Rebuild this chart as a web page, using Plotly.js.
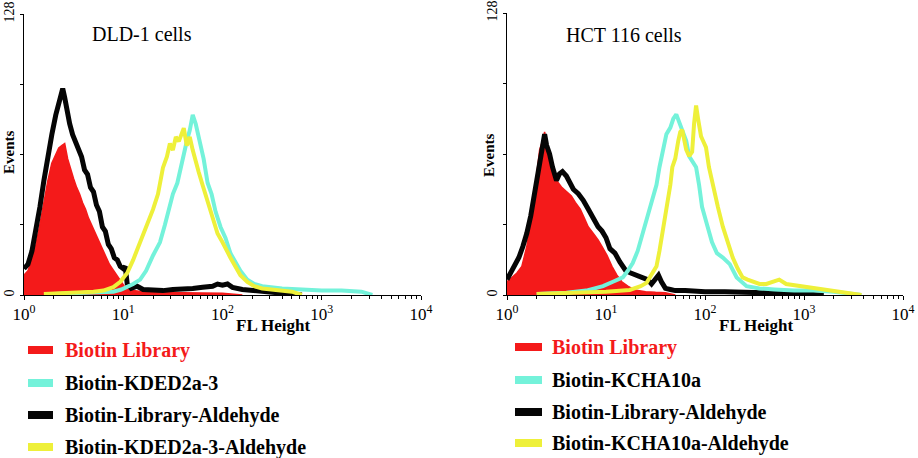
<!DOCTYPE html>
<html>
<head>
<meta charset="utf-8">
<script src="https://cdn.plot.ly/plotly-3.0.1.min.js"></script>
<style>html,body{margin:0;padding:0;background:#fff;}#chart{width:918px;height:458px;}</style>
</head>
<body>
<div id="chart"></div>
<script>
// ---------- DATA (x = log10 FL Height, y = Events) ----------
// DLD-1 cells
const dldRedLx   = [0,0.04,0.08,0.12,0.16,0.2,0.24,0.28,0.32,0.35,0.38,0.41,0.44,0.47,0.5,0.53,0.56,0.59,0.62,0.65,0.68,0.71,0.74,0.77,0.8,0.83,0.86,0.89,0.92,0.95,0.98,1.01,1.05,1.1,1.2,1.4,1.6,1.8,2.0,2.2];
const dldRedEv   = [9,11,16,23,32,42,52,60,64,67,68,69,62,57,53,49,46,42,39,35,32,29,26,23,20,17,14,12,10,8,6,4,3,2,1.5,1,1,1,0.8,0];
const dldBlackLx = [0,0.04,0.08,0.12,0.16,0.2,0.24,0.28,0.32,0.35,0.37,0.39,0.41,0.43,0.46,0.49,0.52,0.55,0.58,0.61,0.64,0.67,0.70,0.73,0.76,0.79,0.82,0.85,0.88,0.91,0.94,0.97,1.0,1.02,1.04,1.08,1.14,1.2,1.3,1.4,1.5,1.6,1.7,1.8,1.9,1.95,2.0,2.05,2.1,2.2,2.3,2.4,2.5,2.6,2.8];
const dldBlackEv = [12,14,20,29,40,52,64,73,82,88,92,94,90,84,78,73,70,66,63,57,55,49,47,41,38,31,29,23,21,17,16,13,12,13,5,3,4,2.5,2,2,2.5,2.5,3,3.5,4,5,4.5,5,3.5,2.5,2,1.5,1,0.5,0];
const dldCyanLx  = [0.3,0.6,0.8,0.9,0.98,1.04,1.1,1.17,1.23,1.3,1.37,1.42,1.47,1.5,1.545,1.58,1.61,1.64,1.67,1.70,1.73,1.76,1.78,1.81,1.85,1.89,1.93,1.98,2.03,2.08,2.13,2.18,2.25,2.32,2.4,2.48,2.6,2.8,3.0,3.2,3.4,3.51];
const dldCyanEv  = [0.5,0.8,1,1.5,2.5,3.6,5,7,11,18,24,32,40,46,51,58,66,70,75,82,78,72,69,62,51,46,38,31,26,19,15,11,7,5,4,3.5,3,2.5,2,2,1.5,0];
const dldYellowLx= [0.2,0.5,0.7,0.8,0.9,0.97,1.04,1.1,1.17,1.23,1.3,1.35,1.4,1.44,1.47,1.5,1.53,1.56,1.59,1.61,1.64,1.67,1.7,1.73,1.76,1.8,1.84,1.88,1.92,1.95,2.0,2.04,2.08,2.13,2.18,2.25,2.32,2.4,2.5,2.6,2.7,2.8];
const dldYellowEv= [0.5,1,1.5,2,3.6,6,10,16,24,30,39,46,58,63,69,66,72,70,74,76,68,72,66,60,56,50,44,38,32,28,24,20,17,13,9,6,4,3,2.5,2,1.5,0];

// HCT 116 cells
const hctRedLx   = [0,0.05,0.1,0.15,0.2,0.25,0.29,0.33,0.36,0.38,0.41,0.43,0.46,0.5,0.55,0.6,0.65,0.69,0.74,0.78,0.82,0.87,0.92,0.96,1.01,1.06,1.11,1.16,1.22,1.29,1.4,1.5,1.6,1.7];
const hctRedEv   = [6,8,10,13,22,36,52,66,70,74,66,63,58,52,49,47,45,42,39,35,31,28,25,22,18,13,9,6,4,2.3,1.5,1.2,1,0];
const hctBlackLx = [0,0.04,0.08,0.12,0.16,0.2,0.24,0.28,0.31,0.34,0.36,0.38,0.40,0.43,0.46,0.5,0.53,0.56,0.6,0.63,0.67,0.72,0.77,0.82,0.87,0.92,0.96,1.0,1.04,1.09,1.14,1.2,1.25,1.3,1.36,1.42,1.46,1.5,1.53,1.56,1.6,1.65,1.7,1.8,1.9,2.0,2.2,2.4,2.6,2.8,3.0,3.2];
const hctBlackEv = [7,10,13,17,22,28,36,46,55,62,68,73,68,64,58,52,55,56,54,51,48,46,43,39,35,31,29,26,21,19,15,11,10,9,8,7,5,7,9,6,3,2.5,2,2,1.5,1.5,1.5,1,1,0.8,0.5,0];
const hctCyanLx  = [0.3,0.6,0.8,0.97,1.07,1.17,1.22,1.27,1.32,1.37,1.42,1.47,1.51,1.54,1.58,1.61,1.65,1.68,1.71,1.74,1.78,1.81,1.84,1.88,1.91,1.94,1.97,2.02,2.07,2.12,2.18,2.25,2.32,2.42,2.55,2.7,2.9,3.1,3.3,3.58];
const hctCyanEv  = [0.5,1,2,4,6,8,11,14.5,20,28,35,43,50,58,66,73,76,80,82,78,74,70,63,60,58,50,40,32,24,19,17,14,8,4,3,2.5,2,2,1.5,0];
const hctYellowLx= [0.3,0.7,1.0,1.24,1.35,1.41,1.46,1.51,1.54,1.57,1.6,1.62,1.65,1.67,1.7,1.73,1.75,1.77,1.79,1.81,1.84,1.87,1.89,1.91,1.93,1.96,1.98,2.01,2.04,2.08,2.13,2.18,2.23,2.28,2.33,2.38,2.43,2.48,2.55,2.62,2.68,2.75,2.82,2.9,2.98,3.1,3.2,3.32,3.45,3.58];
const hctYellowEv= [0.5,1,1.5,2.3,4,5.5,9,13,20,28,36,43,50,58,62,70,74,75,70,66,63,65,78,86,80,72,70,67,58,49,40,31,24,17,12,8,7,6,5,5,6,7,5,4.5,3.6,3,2.5,1.4,1,0];

const xTickVals  = [1,10,100,1000,10000];
const xTickText  = ['10<sup>0</sup>','10<sup>1</sup>','10<sup>2</sup>','10<sup>3</sup>','10<sup>4</sup>'];
const yTickVals  = [0,128];
const yTickText  = ['0','128'];
const yMinorVals = [32,64,96];

const panelTitles = ['DLD-1 cells','HCT 116 cells'];
const legendLeft  = ['Biotin Library','Biotin-KDED2a-3','Biotin-Library-Aldehyde','Biotin-KDED2a-3-Aldehyde'];
const legendRight = ['Biotin Library','Biotin-KCHA10a','Biotin-Library-Aldehyde','Biotin-KCHA10a-Aldehyde'];

// ---------- STYLE ----------
const RED='#f41a1a', CYAN='#74f2da', BLACK='#050505', YELLOW='#eef03a';
const W=918,H=458;
const px=v=>v/W, py=v=>1-v/H;
const toFL=a=>a.map(v=>Math.pow(10,v));

function lineTrace(lx,ev,color,width,xa,ya,fill){
  const t={x:toFL(lx),y:ev,type:'scatter',mode:'lines',xaxis:xa,yaxis:ya,
    line:{color:color,width:width},hoverinfo:'skip',showlegend:false};
  if(fill){t.fill='tozeroy';t.fillcolor=color;}
  return t;
}
const data=[
  lineTrace(dldRedLx,dldRedEv,RED,1.5,'x','y',true),
  lineTrace(dldBlackLx,dldBlackEv,BLACK,5,'x','y'),
  lineTrace(dldCyanLx,dldCyanEv,CYAN,4,'x','y'),
  lineTrace(dldYellowLx,dldYellowEv,YELLOW,4,'x','y'),
  lineTrace(hctRedLx,hctRedEv,RED,1.5,'x2','y2',true),
  lineTrace(hctBlackLx,hctBlackEv,BLACK,5,'x2','y2'),
  lineTrace(hctCyanLx,hctCyanEv,CYAN,4,'x2','y2'),
  lineTrace(hctYellowLx,hctYellowEv,YELLOW,4,'x2','y2')
];

const minorVals=[];
for(let d=0;d<4;d++){for(let k=2;k<=9;k++){minorVals.push(k*Math.pow(10,d));}}

const serif='"Liberation Serif", "Times New Roman", serif';
function xAxis(l,r){
  return {domain:[px(l),px(r)],type:'log',range:[0,4],showline:true,linecolor:'#000',linewidth:1,
    ticks:'outside',ticklen:4,tickcolor:'#000',tickmode:'array',tickvals:xTickVals,ticktext:xTickText,
    tickfont:{family:serif,size:17,color:'#000'},showgrid:false,zeroline:false,fixedrange:true,
    minor:{ticks:'outside',ticklen:3,tickcolor:'#000',tickmode:'array',tickvals:minorVals,showgrid:false}};
}
function yAxis(t,b,anchor){
  return {domain:[py(b),py(t)],range:[0,128],showline:true,linecolor:'#000',linewidth:1,anchor:anchor,
    ticks:'outside',ticklen:3,tickcolor:'#000',tickmode:'array',tickvals:yTickVals,ticktext:yTickText,
    tickangle:-90,tickfont:{family:serif,size:14,color:'#000'},showgrid:false,zeroline:false,fixedrange:true,
    minor:{ticks:'outside',ticklen:3,tickcolor:'#000',tickmode:'array',tickvals:yMinorVals,showgrid:false}};
}

const ann=[];
const shapes=[];
function addText(text,x,y,size,opts){
  ann.push(Object.assign({text:text,xref:'paper',yref:'paper',x:px(x),y:py(y),showarrow:false,
    xanchor:'center',yanchor:'middle',font:{family:serif,size:size,color:'#000'}},opts||{}));
}
addText(panelTitles[0],142,34,20);
addText(panelTitles[1],624,35,20);
addText('<b>FL Height</b>',273,325,17);
addText('<b>FL Height</b>',756,325,17);
addText('<b>Events</b>',9,152,15,{textangle:-90});
addText('<b>Events</b>',489,155,15,{textangle:-90});

const legColors=[RED,CYAN,BLACK,YELLOW];
const leftRows=[350,383,415,447];
const rightRows=[347,380,412,443];
function legend(labels,rows,rx0,rx1,tx){
  labels.forEach((lab,i)=>{
    shapes.push({type:'rect',xref:'paper',yref:'paper',x0:px(rx0),x1:px(rx1),y0:py(rows[i]+4),y1:py(rows[i]-4),
      fillcolor:legColors[i],line:{width:0}});
    addText('<b>'+lab+'</b>',tx,rows[i],20,{xanchor:'left',font:{family:serif,size:20,color:i===0?RED:'#000'}});
  });
}
legend(legendLeft,leftRows,28,53,63);
legend(legendRight,rightRows,515,542,550);

const layout={width:W,height:H,margin:{l:0,r:0,t:0,b:0},paper_bgcolor:'#fff',plot_bgcolor:'rgba(0,0,0,0)',
  showlegend:false,
  xaxis:Object.assign(xAxis(24,421),{anchor:'y'}), yaxis:yAxis(14,295,'x'),
  xaxis2:Object.assign(xAxis(507,903),{anchor:'y2'}), yaxis2:yAxis(13,295,'x2'),
  annotations:ann, shapes:shapes};
Plotly.newPlot('chart',data,layout,{displayModeBar:false,staticPlot:true});
</script>
</body>
</html>
